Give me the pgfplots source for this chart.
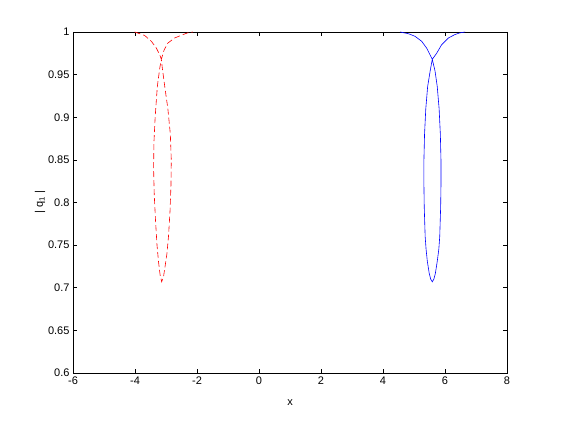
\documentclass[border=0pt]{standalone}
\usepackage{pgfplots}
\pgfplotsset{compat=1.18}
\usepackage{fontspec}
\setmainfont{Liberation Sans}
\begin{document}
\begin{tikzpicture}[x=1pt,y=1pt]
\begin{axis}[
    scale only axis,
    width=434pt, height=341pt,
    xmin=-6, xmax=8,
    ymin=0.6, ymax=1,
    xtick={-6,-4,...,8},
    ytick={0.6,0.65,...,1.01},
    tick align=inside,
    major tick length=4pt,
    axis line style={line width=0.6pt},
    tick style={line width=0.6pt, black},
    xlabel={x},
    ylabel={| q\textsubscript{1} |},
    ticklabel style={font=\fontsize{11}{13}\selectfont},
    label style={font=\fontsize{11}{13}\selectfont},
    /pgf/number format/assume math mode=true,
    /pgf/number format/fixed,
    /pgf/number format/precision=2,
    xlabel style={yshift=-8pt},
    ylabel style={yshift=-4pt},
]
% red dashed branch
\addplot[color=red, line width=0.6pt, dash pattern=on 6pt off 3pt] coordinates {
(-4.01,1.000) (-3.85,0.998) (-3.69,0.996) (-3.47,0.989) (-3.31,0.981)
(-3.20,0.973) (-3.15,0.968) (-3.12,0.958) (-3.04,0.936) (-2.94,0.910)
(-2.86,0.880) (-2.83,0.850) (-2.84,0.820) (-2.87,0.790) (-2.92,0.760)
(-2.97,0.740) (-3.03,0.725) (-3.08,0.713) (-3.14,0.707) (-3.19,0.715)
(-3.24,0.730) (-3.29,0.750) (-3.34,0.780) (-3.38,0.810) (-3.40,0.840)
(-3.39,0.870) (-3.35,0.900) (-3.28,0.936) (-3.20,0.958) (-3.15,0.968)
(-3.06,0.979) (-2.94,0.987) (-2.72,0.993) (-2.45,0.997) (-2.30,0.999)
(-2.13,1.000)
};
% blue solid branch
\addplot[color=blue, line width=0.6pt] coordinates {
(4.55,1.000) (4.82,0.998) (5.03,0.995) (5.25,0.989) (5.41,0.981)
(5.52,0.973) (5.59,0.968) (5.68,0.954) (5.75,0.936) (5.81,0.910)
(5.85,0.880) (5.87,0.850) (5.87,0.820) (5.86,0.795) (5.83,0.760)
(5.80,0.745) (5.75,0.731) (5.69,0.717) (5.64,0.710) (5.59,0.707)
(5.54,0.710) (5.49,0.717) (5.43,0.731) (5.39,0.745) (5.36,0.760)
(5.33,0.795) (5.32,0.820) (5.32,0.850) (5.34,0.880) (5.38,0.910)
(5.44,0.936) (5.52,0.954) (5.59,0.968) (5.73,0.975) (5.89,0.985)
(6.11,0.993) (6.32,0.997) (6.48,0.999) (6.65,1.000)
};
\end{axis}
\pgfresetboundingbox
\path[use as bounding box] (-73pt,-47pt) rectangle (488pt,373pt);
\end{tikzpicture}
\end{document}
